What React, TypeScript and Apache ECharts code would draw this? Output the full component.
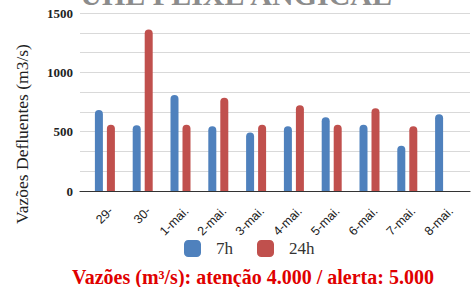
import React, { useEffect, useRef } from "react";
import * as echarts from "echarts";

const categories = ["29-", "30-", "1-mai.", "2-mai.", "3-mai.", "4-mai.", "5-mai.", "6-mai.", "7-mai.", "8-mai."];
const series7h = [682, 555, 809, 545, 494, 545, 621, 559, 382, 646];
const series24h: (number | null)[] = [559, 1362, 559, 786, 559, 722, 559, 697, 545, null];

const SERIF = "'Liberation Serif', 'Times New Roman', serif";

export default function App() {
  const ref = useRef<HTMLDivElement>(null);
  useEffect(() => {
    if (!ref.current) return;
    const chart = echarts.init(ref.current, null, { renderer: "svg" });
    chart.setOption({
      animation: false,
      grid: [
        { left: 86, right: 10, top: 13, bottom: 96, containLabel: false },
        { left: 80, right: 4, top: 13, bottom: 96, containLabel: false },
      ],
      legend: {
        top: 235,
        left: 179,
        itemWidth: 17,
        itemHeight: 17,
        itemGap: 24,
        icon: "roundRect",
        textStyle: { fontFamily: SERIF, fontSize: 17, color: "#333", padding: [0, 0, 0, 10] },
        data: ["7h", "24h"],
      },
      xAxis: [
        {
          type: "category",
          gridIndex: 0,
          data: categories,
          axisLine: { show: false },
          axisTick: { show: false },
          axisLabel: {
            rotate: 45,
            interval: 0,
            fontFamily: "'Liberation Sans', Arial, sans-serif",
            fontSize: 12.5,
            color: "#222",
            margin: 24,
            padding: [0, -8.5, 0, 0],
          },
        },
        {
          type: "value",
          gridIndex: 1,
          min: 0,
          max: 1,
          axisLine: { show: true, lineStyle: { color: "#333", width: 1.2 } },
          axisTick: { show: false },
          axisLabel: { show: false },
          splitLine: { show: false },
        },
      ],
      yAxis: [
        {
          type: "value",
          gridIndex: 0,
          min: 0,
          max: 1500,
          interval: 500,
          axisLine: { show: false },
          axisTick: { show: false },
          axisLabel: { show: false },
          splitLine: { show: false },
        },
        {
          type: "value",
          gridIndex: 1,
          min: 0,
          max: 1500,
          interval: 500,
          axisLine: { show: false },
          axisTick: { show: false },
          axisLabel: {
            fontFamily: SERIF,
            fontWeight: "bold",
            fontSize: 13,
            color: "#222",
            margin: 7,
            formatter: (v: number) => String(v),
          },
          splitLine: { lineStyle: { color: "#d9d9d9" } },
          minorTick: { show: false, splitNumber: 3 },
          minorSplitLine: { show: true, lineStyle: { color: "#d9d9d9" } },
        },
      ],
      series: [
        {
          name: "7h",
          type: "bar",
          xAxisIndex: 0,
          yAxisIndex: 0,
          data: series7h,
          barWidth: 8,
          barGap: "50%",
          z: 3,
          itemStyle: { color: "#4f81bd", borderRadius: [4, 4, 0, 0] },
        },
        {
          name: "24h",
          type: "bar",
          xAxisIndex: 0,
          yAxisIndex: 0,
          data: series24h,
          barWidth: 8,
          z: 3,
          itemStyle: { color: "#c0504d", borderRadius: [4, 4, 0, 0] },
        },
      ],
      graphic: [
        {
          type: "text",
          left: "center",
          top: -21,
          style: {
            text: "UHE PEIXE ANGICAL",
            font: "bold 30px 'Liberation Serif'",
            fill: "#8c8c8c",
          },
        },
        {
          type: "text",
          x: 22,
          y: 134,
          rotation: Math.PI / 2,
          style: {
            text: "Vazões Defluentes (m3/s)",
            font: "17.5px 'Liberation Serif'",
            fill: "#222",
            align: "center",
            verticalAlign: "middle",
          },
        },
        {
          type: "text",
          x: 253,
          y: 267,
          style: {
            text: "Vazões (m³/s): atenção 4.000 / alerta: 5.000",
            font: "bold 20px 'Liberation Serif'",
            fill: "#e00000",
            align: "center",
            verticalAlign: "top",
          },
        },
      ],
    });
    return () => chart.dispose();
  }, []);
  return <div ref={ref} style={{ width: 474, height: 287, position: "absolute", left: 0, top: 0 }} />;
}
